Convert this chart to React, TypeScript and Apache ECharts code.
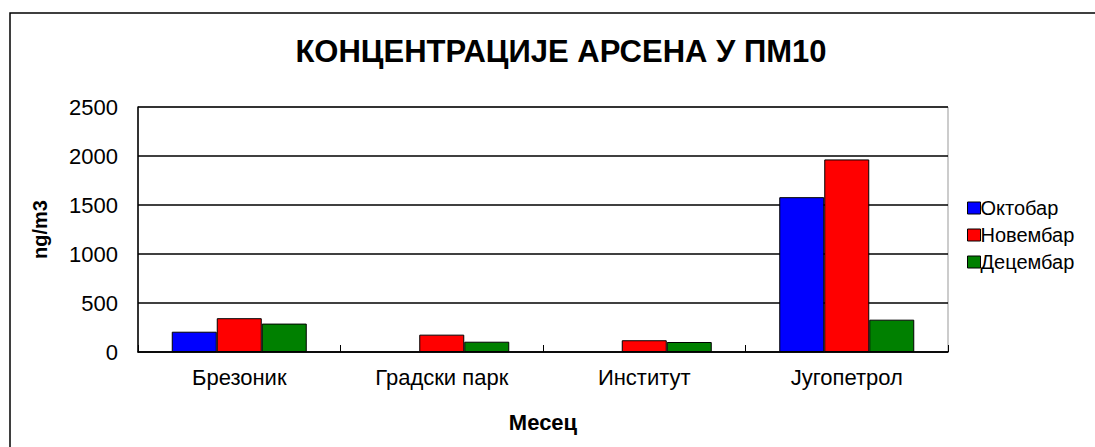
import React, { useEffect, useRef } from "react";
import * as echarts from "echarts";

const categories = ["Брезоник", "Градски парк", "Институт", "Југопетрол"];
const seriesNames = ["Октобар", "Новембар", "Децембар"];
const october: (number | string)[] = [207, "-", "-", 1580];
const november: number[] = [345, 177, 120, 1965];
const december: number[] = [290, 105, 102, 330];
const colors = ["#0000ff", "#ff0000", "#008000"];
const FONT = "'Liberation Sans', Arial, sans-serif";

export default function App() {
  const ref = useRef<HTMLDivElement>(null);
  useEffect(() => {
    if (!ref.current) return;
    const chart = echarts.init(ref.current, undefined, { renderer: "svg" });
    const data = [october, november, december];
    chart.setOption({
      animation: false,
      backgroundColor: "#ffffff",
      title: {
        text: "КОНЦЕНТРАЦИЈЕ АРСЕНА У ПМ10",
        left: 556,
        top: 31,
        textAlign: "center",
        textStyle: { fontFamily: FONT, fontSize: 31, fontWeight: "bold", color: "#000" },
      },
      graphic: [
        {
          type: "rect",
          shape: { x: 10, y: 13, width: 1100, height: 450 },
          style: { fill: "none", stroke: "#000", lineWidth: 1.5 },
          silent: true,
        },
      ],
      legend: {
        orient: "vertical",
        left: 962,
        top: 193,
        itemWidth: 13,
        itemHeight: 12,
        itemGap: 7,
        icon: "rect",
        itemStyle: { borderColor: "#000", borderWidth: 1 },
        textStyle: { fontFamily: FONT, fontSize: 20, lineHeight: 20, color: "#000", padding: [0, 0, 0, -5] },
        data: seriesNames,
      },
      grid: {
        left: 138,
        right: 147,
        top: 107,
        bottom: 95,
        show: true,
        borderColor: "#999",
        borderWidth: 1,
        containLabel: false,
      },
      xAxis: {
        type: "category",
        data: categories,
        name: "Месец",
        nameLocation: "middle",
        nameGap: 59,
        nameTextStyle: { fontFamily: FONT, fontSize: 22, fontWeight: "bold", color: "#000" },
        axisLine: { lineStyle: { color: "#000", width: 1.5 } },
        axisTick: { show: true, inside: true, length: 7, lineStyle: { color: "#000" } },
        axisLabel: { fontFamily: FONT, fontSize: 22, color: "#000", margin: 14 },
        splitLine: { show: false },
      },
      yAxis: {
        type: "value",
        min: 0,
        max: 2500,
        interval: 500,
        name: "ng/m3",
        nameLocation: "middle",
        nameGap: 88,
        nameTextStyle: { fontFamily: FONT, fontSize: 20, fontWeight: "bold", color: "#000" },
        axisLine: { show: true, lineStyle: { color: "#000", width: 1.5 } },
        axisTick: { show: false },
        axisLabel: {
          fontFamily: FONT,
          fontSize: 22,
          color: "#000",
          margin: 20,
          formatter: (v: number) => String(v),
        },
        splitLine: { show: true, lineStyle: { color: "#000", width: 1.5 } },
      },
      series: seriesNames.map((name, i) => ({
        name,
        type: "bar",
        data: data[i],
        barWidth: 45,
        barGap: "0%",
        itemStyle: { color: colors[i], borderColor: "#000", borderWidth: 1 },
      })),
    });
    return () => chart.dispose();
  }, []);
  return (
    <div
      ref={ref}
      style={{ position: "absolute", left: 0, top: 0, width: 1095, height: 447 }}
    />
  );
}
